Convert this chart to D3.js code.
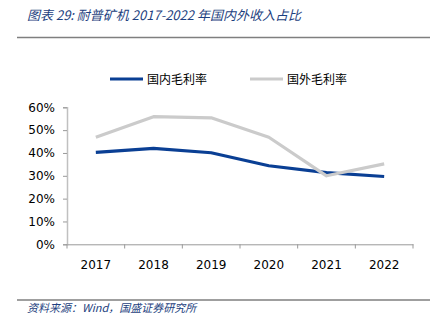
<!DOCTYPE html>
<html>
<head>
<meta charset="utf-8">
<script src="https://cdn.jsdelivr.net/npm/d3@7"></script>
<style>
  body { margin: 0; background: #fff; }
  svg { display: block; font-family: "Noto Sans CJK SC", "DejaVu Sans", sans-serif; }
</style>
</head>
<body>
<div id="chart"></div>
<script>
// chart data
const years = ['2017', '2018', '2019', '2020', '2021', '2022'];
const domestic = [40.3, 42.0, 40.1, 34.4, 31.4, 29.7];
const overseas = [46.9, 55.9, 55.4, 46.9, 30.0, 35.2];
const yTicks = [0, 10, 20, 30, 40, 50, 60];
const seriesNames = ['国内毛利率', '国外毛利率'];
const seriesColors = ['#0a3f94', '#cbcbcb'];

const W = 436, H = 332;
const svg = d3.select('#chart').append('svg')
    .attr('width', W)
    .attr('height', H);

// title + rules
svg.append('text')
    .attr('x', 27).attr('y', 20)
    .attr('fill', '#1e3f80')
    .style('font-size', '13px')
    .style('font-style', 'italic')
    .text('图表 29:  耐普矿机 2017-2022 年国内外收入占比');

svg.append('line')
    .attr('x1', 17).attr('x2', 430).attr('y1', 37.5).attr('y2', 37.5)
    .attr('stroke', '#7f7f7f').attr('stroke-width', 1.5);

svg.append('line')
    .attr('x1', 17).attr('x2', 430).attr('y1', 300).attr('y2', 300)
    .attr('stroke', '#7f7f7f').attr('stroke-width', 1.5);

svg.append('text')
    .attr('x', 27).attr('y', 312)
    .attr('fill', '#1e3f80')
    .style('font-size', '11px')
    .style('font-style', 'italic')
    .text('资料来源：Wind，国盛证券研究所');

// scales
const x = d3.scaleBand().domain(years).range([67, 413]);
const y = d3.scaleLinear().domain([0, 60]).range([244.3, 107.3]);

// axes
const yAxis = svg.append('g')
    .attr('transform', 'translate(67,0)')
    .call(d3.axisLeft(y).tickValues(yTicks).tickSize(4).tickPadding(8).tickFormat(d => d + '%'));
yAxis.select('.domain').attr('stroke', '#c0c0c0').attr('stroke-width', 1.5);
yAxis.selectAll('.tick line').attr('stroke', '#999');
yAxis.selectAll('.tick text')
    .attr('fill', '#000')
    .style('font-family', '"DejaVu Sans", sans-serif')
    .style('font-size', '12px');

const xAxis = svg.append('g')
    .attr('transform', 'translate(0,244.3)')
    .call(d3.axisBottom(x).tickSize(0).tickPadding(16));
xAxis.select('.domain').attr('stroke', '#999').attr('stroke-width', 1);
xAxis.selectAll('.tick text')
    .attr('fill', '#000')
    .style('font-family', '"DejaVu Sans", sans-serif')
    .style('font-size', '12px');

// x tick marks at band edges
svg.append('g').selectAll('line')
    .data(years.concat(['end']))
    .enter().append('line')
    .attr('x1', (d, i) => 67 + i * x.bandwidth())
    .attr('x2', (d, i) => 67 + i * x.bandwidth())
    .attr('y1', 244.3).attr('y2', 248.5)
    .attr('stroke', '#999');

// lines
const line = d3.line()
    .x((d, i) => x(years[i]) + x.bandwidth() / 2)
    .y(d => y(d));

[domestic, overseas].forEach((s, k) => {
    svg.append('path')
        .datum(s)
        .attr('fill', 'none')
        .attr('stroke', seriesColors[k])
        .attr('stroke-width', 3.2)
        .attr('stroke-linejoin', 'round')
        .attr('d', line);
});

// legend
const legendX = [110, 250];
seriesNames.forEach((name, k) => {
    const g = svg.append('g').attr('transform', `translate(${legendX[k]},79)`);
    g.append('line')
        .attr('x1', 0).attr('x2', 33)
        .attr('stroke', seriesColors[k]).attr('stroke-width', 3.2);
    g.append('text')
        .attr('x', 37).attr('y', 4.5)
        .style('font-size', '12px')
        .attr('fill', '#000')
        .text(name);
});
</script>
</body>
</html>
